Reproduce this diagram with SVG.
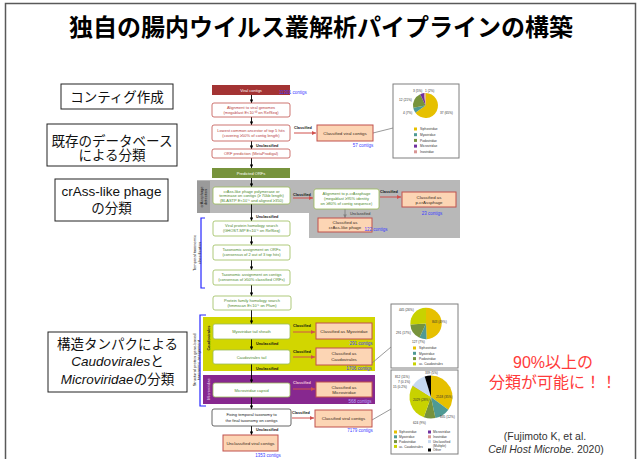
<svg xmlns="http://www.w3.org/2000/svg" width="641" height="459" viewBox="0 0 641 459">
<defs>
<marker id="ah" viewBox="0 0 10 10" refX="10" refY="5" markerWidth="3.6" markerHeight="3.6" markerUnits="userSpaceOnUse" orient="auto"><path d="M0,0 L10,5 L0,10 z" fill="#000"/></marker>
<marker id="ahr" viewBox="0 0 10 10" refX="10" refY="5" markerWidth="4" markerHeight="4" markerUnits="userSpaceOnUse" orient="auto"><path d="M0,0 L10,5 L0,10 z" fill="#d0504d"/></marker>
<marker id="ahg" viewBox="0 0 10 10" refX="10" refY="5" markerWidth="3.6" markerHeight="3.6" markerUnits="userSpaceOnUse" orient="auto"><path d="M0,0 L10,5 L0,10 z" fill="#808080"/></marker>
</defs>
<style>
.lb{fill:#fff;stroke:#222;stroke-width:1}
.lt{font-family:"Liberation Sans","Noto Sans CJK JP",sans-serif;font-size:13.5px;text-anchor:middle;fill:#111}
.ft{font-family:"Liberation Sans",Arial,sans-serif;font-size:4px;text-anchor:middle}
.rb{fill:#fff;stroke:#c0504d;stroke-width:0.8}
.gb{fill:#fff;stroke:#9bbb59;stroke-width:0.8}
.pb{fill:#fcd5b4;stroke:#c0504d;stroke-width:1}
.rt{fill:#b84040}
.gt{fill:#4e8a2e}
.dt{fill:#3a2a1a;font-size:4.4px}
.bl{fill:#3b3bff;font-size:4.5px}
.cl{font-weight:bold;font-size:3.8px;text-anchor:start;fill:#111}
.ar{stroke:#000;stroke-width:0.9;fill:none;marker-end:url(#ah)}
.arr{stroke:#d0504d;stroke-width:1;fill:none;marker-end:url(#ahr)}
.pbx{fill:#fff;stroke:#7f7f7f;stroke-width:1}
.pt{font-family:"Liberation Sans",Arial,sans-serif;font-size:3.2px;fill:#333}
.cn{stroke:#7f7f7f;stroke-width:0.8;fill:none}
</style>
<rect x="5.5" y="3.5" width="630" height="470" fill="#fff" stroke="#595959" stroke-width="1.5"/>
<text x="321" y="36" font-family="'Noto Sans CJK JP',sans-serif" font-size="24" font-weight="bold" text-anchor="middle" fill="#000">独自の腸内ウイルス叢解析パイプラインの構築</text>

<g id="label-contig"><rect class="lb" x="61" y="84" width="112" height="25"/><text class="lt" x="117" y="101.5">コンティグ作成</text></g>
<g id="label-db"><rect class="lb" x="47" y="124" width="130" height="42"/><text class="lt" x="112" y="145.5">既存のデータベース</text><text class="lt" x="112" y="160">による分類</text></g>
<g id="label-crass"><rect class="lb" x="55" y="179" width="113" height="42"/><text class="lt" x="111.5" y="195.5">crAss-like phage</text><text class="lt" x="111.5" y="212.5">の分類</text></g>
<g id="label-struct"><rect class="lb" x="48" y="332" width="139" height="60"/><text class="lt" x="117.5" y="348.5">構造タンパクによる</text><text class="lt" x="117.5" y="366"><tspan font-style="italic">Caudovirales</tspan>と</text><text class="lt" x="117.5" y="383.5"><tspan font-style="italic">Microviridae</tspan>の分類</text></g>

<g id="regions">
<path d="M197,180 H460 V238 H309 V213 H197 Z" fill="#b8b8b8"/>
<rect x="197" y="181" width="13" height="32" fill="#9a9a9a"/>
<g transform="translate(203.5,197) rotate(-90)"><text class="ft" y="-0.6" font-size="3.3" fill="#222">crAssphage</text><text class="ft" y="3.2" font-size="3.3" fill="#222">detection</text></g>
<rect x="203" y="317" width="172" height="54" fill="#d2d600"/>
<g transform="translate(209.5,338) rotate(-90)"><text class="ft" font-weight="bold" font-size="4.3" fill="#222">Caudovirales</text></g>
<rect x="203" y="375" width="172" height="29" fill="#87288f"/>
<g transform="translate(209.5,389) rotate(-90)"><text class="ft" font-size="4" fill="#f0d8f0">Microviridae</text></g>
<path d="M205,218 H201 V288 H205" fill="none" stroke="#2626ff" stroke-width="1.2"/>
<g transform="translate(196,253) rotate(-90)"><text class="ft" font-size="4.8" fill="#222">Temporal taxonomic</text><text class="ft" y="4.6" font-size="4.8" fill="#222">classification</text></g>
<path d="M206,315 H200 V406 H206" fill="none" stroke="#2626ff" stroke-width="1.2"/>
<g transform="translate(195.5,360) rotate(-90)"><text class="ft" font-size="4.6" fill="#222">Structural protein gene-based</text><text class="ft" y="4" font-size="4.6" fill="#222">taxonomic assignment</text></g>
</g>

<g id="connectors">
<line class="ar" x1="251.5" y1="95" x2="251.5" y2="103"/>
<line class="ar" x1="251.5" y1="117" x2="251.5" y2="125"/>
<line class="ar" x1="251.5" y1="141" x2="251.5" y2="149"/>
<line class="ar" x1="251.5" y1="158" x2="251.5" y2="168"/>
<line class="ar" x1="251.5" y1="178" x2="251.5" y2="187"/>
<line class="ar" x1="251.5" y1="204" x2="251.5" y2="221"/>
<line class="ar" x1="251.5" y1="236" x2="251.5" y2="245"/>
<line class="ar" x1="251.5" y1="260" x2="251.5" y2="270"/>
<line class="ar" x1="251.5" y1="285" x2="251.5" y2="296"/>
<line class="ar" x1="251.5" y1="310" x2="251.5" y2="324"/>
<line class="ar" x1="251.5" y1="339" x2="251.5" y2="350"/>
<line class="ar" x1="251.5" y1="364" x2="251.5" y2="383"/>
<line class="ar" x1="251.5" y1="397" x2="251.5" y2="409"/>
<line class="ar" x1="251.5" y1="426" x2="251.5" y2="435"/>
<line stroke="#808080" stroke-width="0.9" marker-end="url(#ahg)" x1="345" y1="209" x2="345" y2="218"/>
<line class="arr" x1="294" y1="133" x2="316" y2="133"/>
<line class="arr" x1="293" y1="198" x2="313" y2="198"/>
<line class="arr" x1="380" y1="197" x2="401" y2="197"/>
<line class="arr" x1="293" y1="332" x2="315" y2="332"/>
<line class="arr" x1="293" y1="357" x2="315" y2="357"/>
<line class="arr" x1="293" y1="389" x2="315" y2="389"/>
<line class="arr" x1="292" y1="418" x2="314" y2="418"/>
<line class="cn" x1="373" y1="133" x2="393" y2="128"/>
<line class="cn" x1="372" y1="363" x2="391" y2="347"/>
<line class="cn" x1="372" y1="420" x2="391" y2="409"/>
<g class="ft">
<text class="cl" x="294" y="128.5">Classified</text>
<text class="cl" x="256" y="146.5">Unclassified</text>
<text class="cl" x="293" y="195.5">Classified</text>
<text class="cl" x="380" y="193">Classified</text>
<text class="cl" x="350" y="214.5" style="font-weight:normal;fill:#333">Unclassified</text>
<text class="cl" x="256" y="217.5">Unclassified</text>
<text class="cl" x="293" y="326.5">Classified</text>
<text class="cl" x="256" y="344.5">Unclassified</text>
<text class="cl" x="293" y="352.5">Classified</text>
<text class="cl" x="256" y="369.5">Unclassified</text>
<text class="cl" x="293" y="384" style="fill:#f4c8dc">Classified</text>
<text class="cl" x="292" y="413.5">Classified</text>
<text class="cl" x="256" y="431">Unclassified</text>
</g>
</g>

<g id="n-viral"><rect x="212" y="85" width="78" height="10" fill="#a33333"/><text class="ft" x="251" y="91.5" fill="#fff">Viral contigs</text><text class="ft bl" x="293" y="94" text-anchor="start">11301 contigs</text></g>
<g id="n-align"><rect class="rb" x="212" y="103" width="78" height="14" rx="2"/><text class="ft rt" x="251" y="109">Alignment to viral genomes</text><text class="ft rt" x="251" y="114">(megablast E&lt;10⁻¹⁰ on RefSeq)</text></g>
<g id="n-lca"><rect class="rb" x="212" y="125" width="78" height="16" rx="2"/><text class="ft rt" x="251" y="131.5">Lowest common ancestor of top 5 hits</text><text class="ft rt" x="251" y="136.5">(covering ≥50% of contig length)</text></g>
<g id="n-orf"><rect class="rb" x="212" y="149" width="78" height="9" rx="2"/><text class="ft rt" x="251" y="155">ORF prediction (MetaProdigal)</text></g>
<g id="n-orfs"><rect x="212" y="168" width="78" height="10" fill="#77933c"/><text class="ft" x="251" y="174.5" fill="#fff">Predicted ORFs</text></g>
<g id="n-cvc1"><rect class="pb" x="317" y="125" width="56" height="16"/><text class="ft dt" x="345" y="134.5">Classified viral contigs</text><text class="ft bl" x="363" y="147">57 contigs</text></g>

<g id="n-crass"><rect class="gb" x="213" y="187" width="77" height="17" rx="2"/><text class="ft gt" font-size="3.7" x="251.5" y="192.5">crAss-like phage polymerase or</text><text class="ft gt" font-size="3.7" x="251.5" y="197">terminase on contigs (≥ 70kb length)</text><text class="ft gt" font-size="3.7" x="251.5" y="201.5">(BLASTP E&lt;10⁻⁵ and aligned ≥350)</text></g>
<g id="n-pcrass-align"><rect class="gb" x="314" y="189" width="65" height="20" rx="2"/><text class="ft gt" font-size="3.7" x="346.5" y="195">Alignment to p-crAssphage</text><text class="ft gt" font-size="3.7" x="346.5" y="200">(megablast ≥95% identity</text><text class="ft gt" font-size="3.7" x="346.5" y="205">on ≥80% of contig sequence)</text></g>
<g id="n-pcrass"><rect class="pb" x="402" y="192" width="54" height="15"/><text class="ft dt" x="429" y="198.5">Classified as</text><text class="ft dt" x="429" y="203.5">p-crAssphage</text><text class="ft bl" x="432" y="215">23 contigs</text></g>
<g id="n-crasslike"><rect class="pb" x="318" y="218" width="54" height="14"/><text class="ft dt" x="345" y="223.5">Classified as</text><text class="ft dt" x="345" y="229">crAss-like phage</text><text class="ft bl" x="376" y="231" text-anchor="start">122 contigs</text></g>

<g id="n-vp"><rect class="gb" x="213" y="221" width="77" height="15" rx="2"/><text class="ft gt" x="251.5" y="227">Viral protein homology search</text><text class="ft gt" x="251.5" y="232">(GHOST-MP E&lt;10⁻⁵ on RefSeq)</text></g>
<g id="n-taorf"><rect class="gb" x="213" y="245" width="77" height="15" rx="2"/><text class="ft gt" x="251.5" y="251">Taxonomic assignment on ORFs</text><text class="ft gt" x="251.5" y="256">(consensus of 2 out of 3 top hits)</text></g>
<g id="n-tacontig"><rect class="gb" x="213" y="270" width="77" height="15" rx="2"/><text class="ft gt" x="251.5" y="276">Taxonomic assignment on contigs</text><text class="ft gt" x="251.5" y="281">(consensus of ≥50% classified ORFs)</text></g>
<g id="n-pfam"><rect class="gb" x="213" y="296" width="78" height="14" rx="2"/><text class="ft gt" x="252" y="302">Protein family homology search</text><text class="ft gt" x="252" y="307">(hmmscan E&lt;10⁻⁵ on Pfam)</text></g>

<g id="n-myo"><rect class="gb" x="213" y="324" width="77" height="15" rx="2"/><text class="ft gt" x="251.5" y="333">Myoviridae tail sheath</text></g>
<g id="n-clmyo"><rect class="pb" x="316" y="323" width="56" height="16"/><text class="ft dt" x="344" y="332.5">Classified as Myoviridae</text><text class="ft bl" x="361" y="345">291 contigs</text></g>
<g id="n-caudo"><rect class="gb" x="213" y="350" width="77" height="14" rx="2"/><text class="ft gt" x="251.5" y="358.5">Caudovirales tail</text></g>
<g id="n-clcaudo"><rect class="pb" x="316" y="348" width="56" height="17"/><text class="ft dt" x="344" y="355">Classified as</text><text class="ft dt" x="344" y="361">Caudovirales</text><text class="ft bl" x="359" y="369.5">1706 contigs</text></g>
<g id="n-micro"><rect class="gb" x="213" y="383" width="77" height="14" rx="2"/><text class="ft gt" x="251.5" y="391.5">Microviridae capsid</text></g>
<g id="n-clmicro"><rect class="pb" x="316" y="382" width="56" height="15"/><text class="ft dt" x="344" y="388.5">Classified as</text><text class="ft dt" x="344" y="394">Microviridae</text><text class="ft bl" x="360" y="402.5" style="fill:#b8a8ff">568 contigs</text></g>
<g id="n-fix"><rect x="212" y="409" width="79" height="17" rx="2" fill="#fff" stroke="#404040" stroke-width="0.8"/><text class="ft" font-size="4.4" fill="#222" x="251.5" y="416">Fixing temporal taxonomy to</text><text class="ft" font-size="4.4" fill="#222" x="251.5" y="422">the final taxonomy on contigs</text></g>
<g id="n-cvc2"><rect class="pb" x="315" y="410" width="57" height="17"/><text class="ft dt" x="343.5" y="420">Classified viral contigs</text><text class="ft bl" x="360" y="431.5">7179 contigs</text></g>
<g id="n-ucvc"><rect class="pb" x="223" y="435" width="55" height="16"/><text class="ft dt" x="250.5" y="444.5">Unclassified viral contigs</text><text class="ft bl" x="268" y="456.5">1353 contigs</text></g>

<g id="pie1">
<rect class="pbx" x="393" y="84" width="66" height="74"/>
<path d="M425.5,105.5 L425.5,93 A12.5,12.5 0 1 1 415.39,112.85 Z" fill="#e6c000"/>
<path d="M425.5,105.5 L415.39,112.85 A12.5,12.5 0 0 1 413.22,107.84 Z" fill="#4f9a94"/>
<path d="M425.5,105.5 L413.22,107.84 A12.5,12.5 0 0 1 420.18,94.19 Z" fill="#77933c"/>
<path d="M425.5,105.5 L420.18,94.19 A12.5,12.5 0 0 1 423.93,93.10 Z" fill="#7030a0"/>
<path d="M425.5,105.5 L423.93,93.10 A12.5,12.5 0 0 1 425.5,93 Z" fill="#d99694"/>
<text class="pt" x="413" y="92">3 (5%)</text><text class="pt" x="425" y="92">1 (2%)</text>
<text class="pt" x="399" y="101">12 (21%)</text><text class="pt" x="403" y="114">4 (7%)</text><text class="pt" x="440" y="114">37 (65%)</text>
<rect x="414" y="127.5" width="3" height="3" fill="#e6c000"/><text class="pt" x="420" y="130.2">Siphoviridae</text>
<rect x="414" y="133.2" width="3" height="3" fill="#4f9a94"/><text class="pt" x="420" y="135.9">Myoviridae</text>
<rect x="414" y="138.9" width="3" height="3" fill="#77933c"/><text class="pt" x="420" y="141.6">Podoviridae</text>
<rect x="414" y="144.6" width="3" height="3" fill="#7030a0"/><text class="pt" x="420" y="147.3">Microviridae</text>
<rect x="414" y="150.3" width="3" height="3" fill="#d99694"/><text class="pt" x="420" y="153">Inoviridae</text>
</g>

<g id="pie2">
<rect class="pbx" x="391" y="304" width="67" height="64"/>
<path d="M426,323.5 L426,307.8 A15.7,15.7 0 0 1 426.57,339.19 Z" fill="#e6c000"/>
<path d="M426,323.5 L426.57,339.19 A15.7,15.7 0 0 1 419.44,337.76 Z" fill="#4f9a94"/>
<path d="M426,323.5 L419.44,337.76 A15.7,15.7 0 0 1 410.34,324.57 Z" fill="#77933c"/>
<path d="M426,323.5 L410.34,324.57 A15.7,15.7 0 0 1 426,307.8 Z" fill="#c8d200"/>
<text class="pt" x="399" y="311">445 (26%)</text><text class="pt" x="432" y="323">843 (49%)</text>
<text class="pt" x="396" y="334">291 (17%)</text><text class="pt" x="412" y="343">127 (7%)</text>
<rect x="413" y="346.5" width="3" height="3" fill="#e6c000"/><text class="pt" x="419" y="349.2">Siphoviridae</text>
<rect x="413" y="351.8" width="3" height="3" fill="#4f9a94"/><text class="pt" x="419" y="354.5">Myoviridae</text>
<rect x="413" y="357.1" width="3" height="3" fill="#77933c"/><text class="pt" x="419" y="359.8">Podoviridae</text>
<rect x="413" y="362.4" width="3" height="3" fill="#c8d200"/><text class="pt" x="419" y="365.1">uc. Caudovirales</text>
</g>

<g id="pie3">
<rect class="pbx" x="391" y="370" width="67" height="84"/>
<path d="M431,397 L431,375.5 A21.5,21.5 0 0 1 448.33,409.73 Z" fill="#e6c000"/>
<path d="M431,397 L448.33,409.73 A21.5,21.5 0 0 1 435.40,418.05 Z" fill="#4f9a94"/>
<path d="M431,397 L435.40,418.05 A21.5,21.5 0 0 1 423.82,417.27 Z" fill="#77933c"/>
<path d="M431,397 L423.82,417.27 A21.5,21.5 0 0 1 412.61,385.86 Z" fill="#c8d200"/>
<path d="M431,397 L412.61,385.86 A21.5,21.5 0 0 1 412.77,385.61 Z" fill="#7030a0"/>
<path d="M431,397 L412.77,385.61 A21.5,21.5 0 0 1 412.83,385.51 Z" fill="#d99694"/>
<path d="M431,397 L412.83,385.51 A21.5,21.5 0 0 1 424.71,376.44 Z" fill="#c6d9f1"/>
<path d="M431,397 L424.71,376.44 A21.5,21.5 0 0 1 431,375.5 Z" fill="#000"/>
<text class="pt" x="425" y="374">339 (5%)</text><text class="pt" x="395" y="378">812 (11%)</text>
<text class="pt" x="398" y="383">7 (0.1%)</text><text class="pt" x="393" y="388">15 (0.2%)</text>
<text class="pt" x="413" y="401">2029 (28%)</text><text class="pt" x="436" y="398">2518 (35%)</text>
<text class="pt" x="440" y="418">835 (12%)</text><text class="pt" x="413" y="423.5">624 (9%)</text>
<rect x="394" y="430.5" width="3" height="3" fill="#e6c000"/><text class="pt" x="399" y="433.2">Siphoviridae</text>
<rect x="394" y="435.3" width="3" height="3" fill="#4f9a94"/><text class="pt" x="399" y="438">Myoviridae</text>
<rect x="394" y="440.1" width="3" height="3" fill="#77933c"/><text class="pt" x="399" y="442.8">Podoviridae</text>
<rect x="394" y="444.9" width="3" height="3" fill="#c8d200"/><text class="pt" x="399" y="447.6">uc. Caudovirales</text>
<rect x="428" y="430.5" width="3" height="3" fill="#7030a0"/><text class="pt" x="433" y="433.2">Microviridae</text>
<rect x="428" y="435.3" width="3" height="3" fill="#d99694"/><text class="pt" x="433" y="438">Inoviridae</text>
<rect x="428" y="440.1" width="3" height="3" fill="#c6d9f1"/><text class="pt" x="433" y="442.8">Unclassified</text>
<text class="pt" x="433" y="446.8">(Multiple)</text>
<rect x="428" y="448.5" width="3" height="3" fill="#000"/><text class="pt" x="433" y="451.2">Other</text>
</g>

<g id="result-note"><text x="553" y="367.5" font-family="'Liberation Sans','Noto Sans CJK JP',sans-serif" font-size="16" text-anchor="middle" fill="#ff3b3b">90%以上の</text><text x="553" y="387.5" font-family="'Liberation Sans','Noto Sans CJK JP',sans-serif" font-size="16" text-anchor="middle" fill="#ff3b3b">分類が可能に！！</text></g>
<g id="citation"><text x="545" y="440" font-family="'Liberation Sans',Arial,sans-serif" font-size="10.5" text-anchor="middle" fill="#333">(Fujimoto K, et al.</text><text x="546" y="452.5" font-family="'Liberation Sans',Arial,sans-serif" font-size="10.5" text-anchor="middle" fill="#333"><tspan font-style="italic">Cell Host Microbe</tspan>. 2020)</text></g>
</svg>
